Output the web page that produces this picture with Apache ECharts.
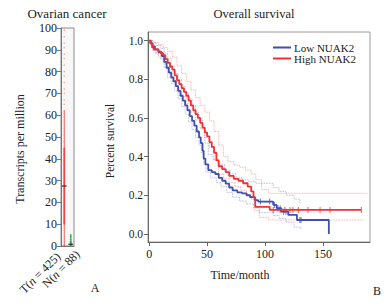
<!DOCTYPE html>
<html>
<head>
<meta charset="utf-8">
<script src="https://cdn.jsdelivr.net/npm/echarts@6/dist/echarts.min.js"></script>
<style>
  html, body { margin: 0; padding: 0; background: #fff; }
  #chart { width: 390px; height: 306px; }
</style>
</head>
<body>
<div id="chart"></div>
<script>
// ---- panel A: Ovarian cancer expression ----
const groups = ['T', 'N'];
const groupLabels = ['{a|T(}{i|n}{a| = 425)}', '{a|N(}{i|n}{a| = 88)}'];
const tpmTicks = [0, 10, 20, 30, 40, 50, 60, 70, 80, 90, 100];
// [min, Q1, median, Q3, max]
const boxT = [0, 10, 27.5, 45, 62];
const boxN = [0, 0.3, 0.8, 2, 4.5];
const pointsT = [48, 51, 54, 57, 59, 62, 65, 67, 70, 72, 75, 78, 80, 83, 86, 88, 91, 93, 96, 99];
const pointsN = [0.6, 1.4, 2.2, 3.1, 4.2, 5];

// ---- panel B: Kaplan-Meier, time in months ----
const survTicks = [0, 0.2, 0.4, 0.6, 0.8, 1.0];
const timeTicks = [0, 50, 100, 150];

const lowCurve = [
  [0, 1.0], [1.5, 0.985], [3, 0.97], [5, 0.955], [8, 0.94], [11, 0.92], [13, 0.89],
  [15, 0.86], [17, 0.835], [19, 0.81], [21, 0.79], [23, 0.765], [25, 0.74], [27, 0.715],
  [29, 0.69], [31, 0.665], [33, 0.64], [35, 0.61], [37, 0.585], [39, 0.56], [41, 0.53],
  [43, 0.5], [44.5, 0.47], [46, 0.43], [47, 0.39], [48.5, 0.36], [51, 0.33], [54, 0.32],
  [57, 0.31], [60, 0.29], [63, 0.275], [66, 0.26], [69, 0.24], [72, 0.225], [76, 0.215],
  [80, 0.21], [84, 0.2], [87, 0.19], [91, 0.175], [94, 0.167], [107, 0.15], [110, 0.133],
  [114, 0.115], [120, 0.098], [127.5, 0.072], [155, 0.0]
];
const highCurve = [
  [0, 1.0], [1, 0.985], [2.5, 0.965], [4, 0.955], [8, 0.945], [10, 0.935], [12, 0.925],
  [14, 0.905], [16, 0.885], [18, 0.865], [20, 0.85], [22, 0.82], [24, 0.795], [26, 0.775],
  [28, 0.755], [30, 0.735], [32, 0.715], [34, 0.69], [36, 0.665], [38, 0.64], [40, 0.62],
  [42, 0.6], [44, 0.575], [46, 0.55], [48, 0.525], [50, 0.505], [52, 0.475], [54, 0.45],
  [56, 0.42], [58, 0.38], [60, 0.35], [63, 0.335], [66, 0.32], [69, 0.3], [73, 0.285],
  [77, 0.275], [81, 0.262], [85, 0.245], [88, 0.22], [90, 0.19], [91.5, 0.14], [104, 0.124],
  [183, 0.124]
];
const lowUpper = [
  [0, 1.0], [3, 0.99], [6, 0.975], [10, 0.96], [13, 0.935], [16, 0.91], [19, 0.87],
  [22, 0.83], [25, 0.8], [28, 0.765], [31, 0.73], [34, 0.7], [37, 0.665], [40, 0.63],
  [43, 0.6], [46, 0.55], [48, 0.47], [51, 0.41], [55, 0.385], [60, 0.36], [65, 0.33],
  [70, 0.31], [75, 0.29], [80, 0.28], [86, 0.27], [92, 0.262], [107, 0.24], [112, 0.22],
  [118, 0.2], [125, 0.18], [130, 0.16]
];
const lowLower = [
  [0, 0.99], [3, 0.95], [6, 0.93], [10, 0.905], [13, 0.86], [16, 0.81], [19, 0.78],
  [22, 0.74], [25, 0.7], [28, 0.66], [31, 0.62], [34, 0.58], [37, 0.54], [40, 0.5],
  [43, 0.46], [45, 0.42], [47, 0.36], [49, 0.32], [53, 0.29], [58, 0.265], [62, 0.245],
  [67, 0.215], [72, 0.19], [78, 0.17], [84, 0.155], [90, 0.135], [95, 0.11], [107, 0.095],
  [112, 0.08], [118, 0.06], [125, 0.035], [131, 0.02]
];
const highUpper = [
  [0, 1.0], [4, 0.99], [8, 0.98], [12, 0.965], [16, 0.945], [20, 0.915], [24, 0.87],
  [28, 0.83], [32, 0.79], [36, 0.745], [40, 0.705], [44, 0.665], [48, 0.63], [52, 0.585],
  [56, 0.53], [60, 0.46], [64, 0.4], [68, 0.375], [73, 0.355], [78, 0.345], [83, 0.33],
  [88, 0.31], [92, 0.28], [97, 0.23], [103, 0.21], [188, 0.21]
];
const highLower = [
  [0, 0.985], [4, 0.94], [8, 0.915], [12, 0.885], [16, 0.84], [20, 0.79], [24, 0.75],
  [28, 0.71], [32, 0.675], [36, 0.63], [40, 0.59], [44, 0.545], [48, 0.5], [52, 0.445],
  [56, 0.38], [60, 0.31], [64, 0.29], [69, 0.265], [74, 0.245], [79, 0.225], [84, 0.205],
  [88, 0.18], [91, 0.12], [95, 0.085], [103, 0.072], [185, 0.072]
];
const lowCensor = [96, 104, 108, 111, 113, 116, 118, 130, 131];
const highCensor = [107, 113, 117, 121.5, 124, 128.7, 137, 147.4, 156, 183];

const BLUE = '#3f4fae';
const RED = '#ef3333';
const GREEN = '#2e9a3a';
const FONT = '"Liberation Serif", "DejaVu Serif", serif';
const TXT = '#222';

// survival value at time t (step function)
function survAt (curve, t) {
  let v = curve[0][1];
  for (const p of curve) {
    if (p[0] <= t) v = p[1];
  }
  return v;
}

const chart = echarts.init(document.getElementById('chart'), null, { renderer: 'svg' });

const bandLine = (color) => ({
  color: color,
  width: 0.8,
  type: 'dotted',
  opacity: 0.55
});

const txt = (text, x, y, size, rot) => ({
  type: 'text',
  x: x,
  y: y,
  rotation: rot || 0,
  style: { text: text, fill: TXT, font: size + 'px ' + FONT, align: 'center', verticalAlign: 'middle' }
});

// rotated group labels under panel A (italic n)
const groupRich = {
  a: { fontFamily: FONT, fontSize: 12, fill: TXT },
  i: { fontFamily: FONT, fontSize: 12, fill: TXT, fontStyle: 'italic' }
};
const groupLabelPos = [[40, 273], [61, 269]];

const option = {
  animation: false,
  backgroundColor: '#fff',
  textStyle: { fontFamily: FONT, color: TXT },
  grid: [
    {
      left: 61, top: 28, width: 13, height: 218,
      show: true, backgroundColor: '#f7f7f7', borderColor: '#8a8a8a', borderWidth: 1
    },
    {
      left: 148, top: 32, width: 222, height: 210,
      show: true, backgroundColor: '#fff', borderColor: '#9a9a9a', borderWidth: 1
    }
  ],
  xAxis: [
    {
      gridIndex: 0,
      type: 'category',
      data: groups,
      axisLine: { show: true, lineStyle: { color: '#777' } },
      axisTick: { show: false },
      axisLabel: { show: false }
    },
    {
      gridIndex: 1,
      type: 'value',
      min: -1,
      max: 190.5,
      splitLine: { show: false },
      axisLine: { show: true, onZero: false, lineStyle: { color: '#666' } },
      axisTick: { show: true, length: 4, customValues: timeTicks, lineStyle: { color: '#666' } },
      axisLabel: { customValues: timeTicks, fontFamily: FONT, fontSize: 12, color: TXT, margin: 6 }
    }
  ],
  yAxis: [
    {
      gridIndex: 0,
      type: 'value',
      min: 0,
      max: 100,
      interval: 10,
      splitLine: { show: false },
      axisLine: { show: true, lineStyle: { color: '#777' } },
      axisTick: { show: true, length: 4, customValues: tpmTicks, lineStyle: { color: '#777' } },
      axisLabel: { customValues: tpmTicks, fontFamily: FONT, fontSize: 12, color: TXT, margin: 4 }
    },
    {
      gridIndex: 1,
      type: 'value',
      min: -0.042,
      max: 1.045,
      splitLine: { show: false },
      axisLine: { show: true, onZero: false, lineStyle: { color: '#666' } },
      axisTick: { show: true, length: 4, customValues: survTicks, lineStyle: { color: '#666' } },
      axisLabel: {
        customValues: survTicks,
        formatter: (v) => v.toFixed(1),
        fontFamily: FONT, fontSize: 11.5, color: TXT, margin: 5
      }
    }
  ],
  legend: {
    data: ['Low NUAK2', 'High NUAK2'],
    orient: 'vertical',
    left: 268,
    top: 37,
    icon: 'rect',
    itemWidth: 18,
    itemHeight: 2,
    itemGap: 0,
    textStyle: { fontFamily: FONT, fontSize: 11, color: TXT, lineHeight: 9.5, padding: [0, 0, 0, -2] }
  },
  graphic: [
    txt('Ovarian cancer', 67, 13, 13),
    txt('Overall survival', 254, 14, 12.5),
    txt('Transcripts per million', 20, 149, 12, Math.PI / 2),
    txt('Percent survival', 110, 141, 11.5, Math.PI / 2),
    txt('Time/month', 240, 275, 12),
    txt('A', 95, 288, 12),
    txt('B', 377, 291, 12)
  ].concat(groupLabels.map((label, i) => ({
    type: 'text',
    x: groupLabelPos[i][0],
    y: groupLabelPos[i][1],
    rotation: Math.PI / 4,
    style: { text: label, rich: groupRich, fill: TXT, font: '12px ' + FONT, align: 'center', verticalAlign: 'middle' }
  }))),
  series: [
    // panel A
    {
      type: 'boxplot',
      xAxisIndex: 0, yAxisIndex: 0,
      boxWidth: [0.5, 0.8],
      data: [
        { value: boxT, itemStyle: { color: RED, borderColor: RED, borderWidth: 0.8 } },
        { value: boxN, itemStyle: { color: GREEN, borderColor: GREEN, borderWidth: 0.8 } }
      ]
    },
    {
      type: 'scatter',
      xAxisIndex: 0, yAxisIndex: 0,
      symbolSize: 1.4,
      itemStyle: { color: '#f37a7a', opacity: 0.7 },
      data: pointsT.map(v => ['T', v])
    },
    {
      type: 'scatter',
      xAxisIndex: 0, yAxisIndex: 0,
      symbolSize: 1.8,
      itemStyle: { color: GREEN },
      data: pointsN.map(v => ['N', v])
    },
    {
      // medians
      type: 'scatter',
      xAxisIndex: 0, yAxisIndex: 0,
      symbol: 'rect',
      symbolSize: [5, 1.2],
      itemStyle: { color: '#111' },
      data: [['T', boxT[2]], ['N', boxN[2]]]
    },
    // panel B: confidence bands
    { type: 'line', name: 'low-upper', xAxisIndex: 1, yAxisIndex: 1, step: 'end', symbol: 'none', lineStyle: bandLine(BLUE), data: lowUpper },
    { type: 'line', name: 'low-lower', xAxisIndex: 1, yAxisIndex: 1, step: 'end', symbol: 'none', lineStyle: bandLine(BLUE), data: lowLower },
    { type: 'line', name: 'high-upper', xAxisIndex: 1, yAxisIndex: 1, step: 'end', symbol: 'none', lineStyle: bandLine(RED), data: highUpper },
    { type: 'line', name: 'high-lower', xAxisIndex: 1, yAxisIndex: 1, step: 'end', symbol: 'none', lineStyle: bandLine(RED), data: highLower },
    // survival curves
    {
      type: 'line', name: 'Low NUAK2', xAxisIndex: 1, yAxisIndex: 1, step: 'end', symbol: 'none',
      color: BLUE, lineStyle: { color: BLUE, width: 1.8 }, data: lowCurve
    },
    {
      type: 'line', name: 'High NUAK2', xAxisIndex: 1, yAxisIndex: 1, step: 'end', symbol: 'none',
      color: RED, lineStyle: { color: RED, width: 1.8 }, data: highCurve
    },
    // censor marks
    {
      type: 'scatter', xAxisIndex: 1, yAxisIndex: 1, symbol: 'rect', symbolSize: [1, 6],
      itemStyle: { color: BLUE }, data: lowCensor.map(t => [t, survAt(lowCurve, t)])
    },
    {
      type: 'scatter', xAxisIndex: 1, yAxisIndex: 1, symbol: 'rect', symbolSize: [1, 6],
      itemStyle: { color: RED }, data: highCensor.map(t => [t, survAt(highCurve, t)])
    }
  ]
};

chart.setOption(option);
</script>
</body>
</html>
